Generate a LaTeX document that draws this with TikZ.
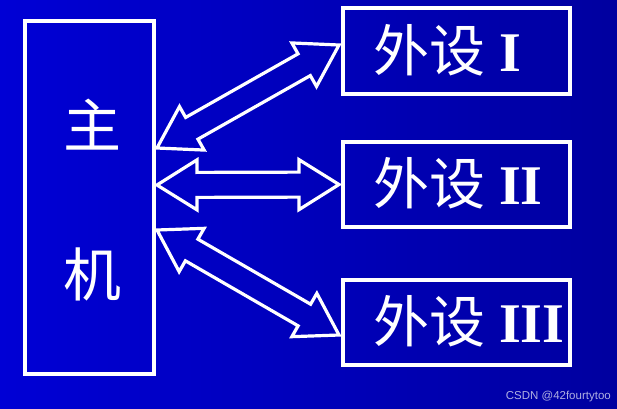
\documentclass[tikz,border=0pt]{standalone}
\usepackage{fontspec}
\setmainfont{Liberation Serif}
\newfontfamily\cjk{Noto Sans CJK SC}
\newfontfamily\wmfont{Liberation Sans}
\usetikzlibrary{calc}
\definecolor{bgleft}{RGB}{0,0,238}
\definecolor{bgright}{RGB}{0,0,178}
\definecolor{wmcol}{RGB}{175,175,225}
\tikzset{
  box/.style={draw=white, line width=3.5pt, inner sep=0pt, outer sep=0pt},
  bigcjk/.style={text=white, inner sep=0pt, font=\cjk\fontsize{58}{62}\selectfont},
  periphtext/.style={text=white, inner sep=0pt, anchor=base west, font=\fontsize{56}{60}\selectfont},
  dblarrow/.style={draw=white, line width=3.2pt, line join=miter},
  watermark/.style={text=wmcol, inner sep=0pt, anchor=base east, font=\wmfont\fontsize{11.5}{13}\selectfont}
}
\newcommand\twowayarrow[2]{%
  \draw[dblarrow] let \p1=(#1), \p2=(#2),
    \n1={atan2(\y2-\y1,\x2-\x1)}, \n2={veclen(\x2-\x1,\y2-\y1)}, \n3={\n2-40pt} in
    [shift={(\p1)}, rotate=\n1]
    (0pt,0pt) -- (40pt,25pt) -- (40pt,12.5pt) -- (\n3,12.5pt) -- (\n3,25pt)
    -- (\n2,0pt) -- (\n3,-25pt) -- (\n3,-12.5pt) -- (40pt,-12.5pt)
    -- (40pt,-25pt) -- cycle;}
\begin{document}
\begin{tikzpicture}[x=1pt,y=-1pt]
  % background
  \shade[left color=bgleft, right color=bgright] (0,0) rectangle (617,408);
  \useasboundingbox (0,0) rectangle (617,408);
  \begin{scope}
    \clip (0,0) rectangle (617,408);
    \shade[top color=bgright!0!black, bottom color=black, opacity=0.1] (0,0) rectangle (617,408);
  \end{scope}

  % boxes
  \node[box, minimum width=129pt, minimum height=353pt] (main) at (89.5,197.5) {};
  \node[box, minimum width=227pt, minimum height=86pt] (p1) at (456.5,51) {};
  \node[box, minimum width=227pt, minimum height=85pt] (p2) at (456.5,184.5) {};
  \node[box, minimum width=227pt, minimum height=85pt] (p3) at (456.5,322.5) {};

  % texts in main box
  \node[bigcjk] (zhu) at ([xshift=2.5pt, yshift=72.5pt]main.center) {主};
  \node[bigcjk] (ji) at ([xshift=2.5pt, yshift=-76.5pt]main.center) {机};

  % texts in peripheral boxes
  \node[periphtext] (t1) at ([xshift=30pt, yshift=-20pt]p1.west) {{\cjk 外设} \textbf{I}};
  \node[periphtext] (t2) at ([xshift=30pt, yshift=-20pt]p2.west) {{\cjk 外设} \textbf{II}};
  \node[periphtext] (t3) at ([xshift=30pt, yshift=-20pt]p3.west) {{\cjk 外设} \textbf{III}};

  % arrow end points
  \coordinate (m1) at ([xshift=3pt, yshift=49.5pt]main.east);
  \coordinate (m2) at ([xshift=3pt, yshift=12.5pt]main.east);
  \coordinate (m3) at ([xshift=3pt, yshift=-32.5pt]main.east);
  \coordinate (e1) at ([xshift=-4pt, yshift=6pt]p1.west);
  \coordinate (e2) at ([xshift=-4pt]p2.west);
  \coordinate (e3) at ([xshift=-4pt, yshift=-12.5pt]p3.west);

  \twowayarrow{m1}{e1}
  \twowayarrow{m2}{e2}
  \twowayarrow{m3}{e3}

  % watermark
  \node[watermark] (wm) at (611,399) {CSDN @42fourtytoo};
\end{tikzpicture}
\end{document}
